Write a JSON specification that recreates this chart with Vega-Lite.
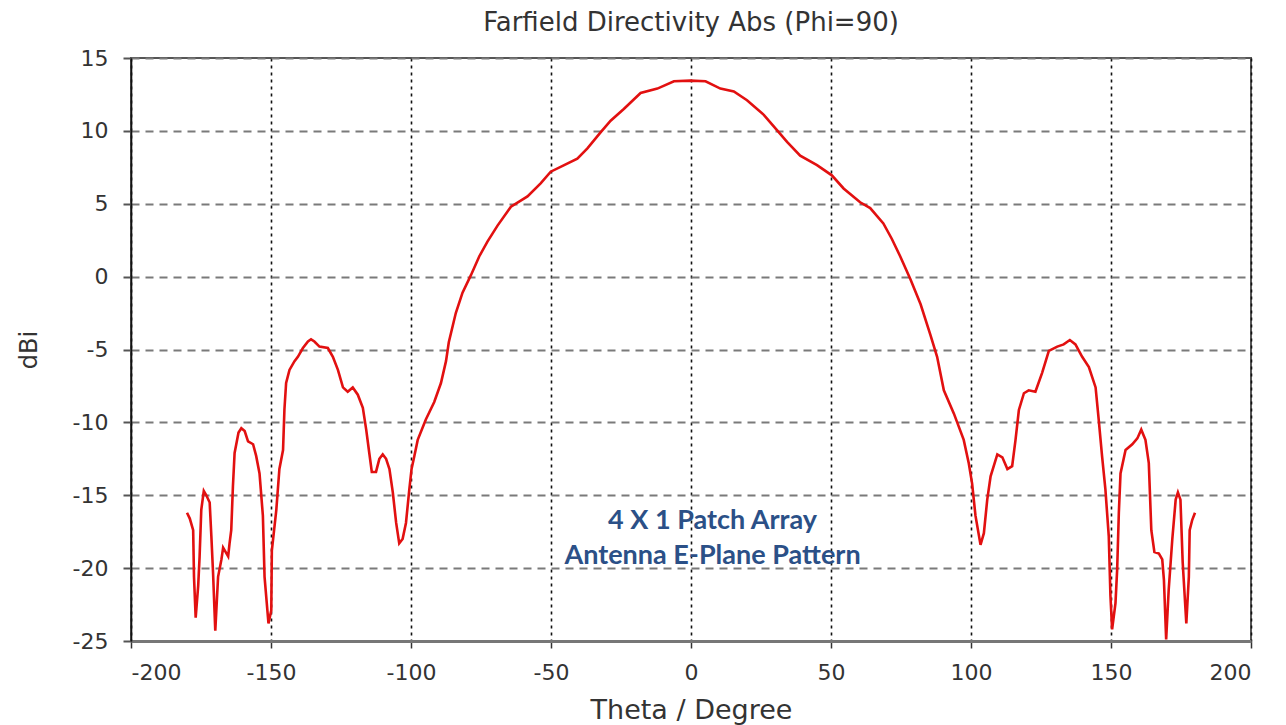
{
  "$schema": "https://vega.github.io/schema/vega-lite/v6.json",
  "width": 1120,
  "height": 583,
  "autosize": {"type": "none"},
  "padding": {"left": 131, "top": 58, "right": 35, "bottom": 84},
  "background": "white",
  "config": {
    "view": {"stroke": "#555555", "strokeWidth": 2},
    "font": "DejaVu Sans",
    "axis": {"labelFont": "DejaVu Sans", "titleFont": "DejaVu Sans", "labelColor": "#333333", "titleColor": "#333333"}
  },
  "title": {"text": "Farfield Directivity Abs (Phi=90)", "font": "DejaVu Sans", "fontSize": 26, "fontWeight": "normal", "color": "#333333", "offset": 11, "anchor": "middle"},
  "datasets": {
    "curve": [
      {"theta": -180.0, "dbi": -16.2}, {"theta": -179.0, "dbi": -16.6}, {"theta": -177.8, "dbi": -17.4}, {"theta": -177.5, "dbi": -20.6},
      {"theta": -176.9, "dbi": -23.4}, {"theta": -176.0, "dbi": -21.2}, {"theta": -175.5, "dbi": -19.2}, {"theta": -174.9, "dbi": -16.0},
      {"theta": -174.0, "dbi": -14.7}, {"theta": -173.1, "dbi": -15.0}, {"theta": -171.9, "dbi": -15.5}, {"theta": -171.3, "dbi": -17.8},
      {"theta": -170.7, "dbi": -20.3}, {"theta": -169.9, "dbi": -24.3}, {"theta": -168.9, "dbi": -20.6}, {"theta": -167.7, "dbi": -19.4},
      {"theta": -167.1, "dbi": -18.6}, {"theta": -165.3, "dbi": -19.2}, {"theta": -164.8, "dbi": -18.3}, {"theta": -164.2, "dbi": -17.4},
      {"theta": -163.6, "dbi": -14.4}, {"theta": -163.0, "dbi": -12.1}, {"theta": -161.6, "dbi": -10.7}, {"theta": -160.6, "dbi": -10.4},
      {"theta": -159.4, "dbi": -10.6}, {"theta": -158.2, "dbi": -11.3}, {"theta": -156.4, "dbi": -11.5}, {"theta": -155.3, "dbi": -12.3},
      {"theta": -154.1, "dbi": -13.5}, {"theta": -152.9, "dbi": -16.4}, {"theta": -152.3, "dbi": -20.6}, {"theta": -150.9, "dbi": -23.8},
      {"theta": -149.9, "dbi": -22.9}, {"theta": -149.7, "dbi": -18.8}, {"theta": -148.1, "dbi": -16.0}, {"theta": -147.0, "dbi": -13.2},
      {"theta": -145.7, "dbi": -11.9}, {"theta": -145.2, "dbi": -9.1}, {"theta": -144.6, "dbi": -7.3}, {"theta": -143.4, "dbi": -6.4},
      {"theta": -141.6, "dbi": -5.8}, {"theta": -140.4, "dbi": -5.5}, {"theta": -138.6, "dbi": -4.9}, {"theta": -136.8, "dbi": -4.45},
      {"theta": -135.7, "dbi": -4.3}, {"theta": -134.5, "dbi": -4.45}, {"theta": -132.7, "dbi": -4.8}, {"theta": -129.7, "dbi": -4.9},
      {"theta": -127.9, "dbi": -5.5}, {"theta": -126.1, "dbi": -6.4}, {"theta": -124.3, "dbi": -7.6}, {"theta": -122.6, "dbi": -7.9},
      {"theta": -120.8, "dbi": -7.6}, {"theta": -119.0, "dbi": -8.1}, {"theta": -117.2, "dbi": -9.0}, {"theta": -116.0, "dbi": -10.5},
      {"theta": -114.9, "dbi": -12.1}, {"theta": -114.0, "dbi": -13.4}, {"theta": -112.5, "dbi": -13.4}, {"theta": -111.3, "dbi": -12.5},
      {"theta": -110.1, "dbi": -12.2}, {"theta": -108.9, "dbi": -12.5}, {"theta": -107.7, "dbi": -13.2}, {"theta": -106.5, "dbi": -14.8},
      {"theta": -105.3, "dbi": -16.9}, {"theta": -104.2, "dbi": -18.3}, {"theta": -103.0, "dbi": -18.0}, {"theta": -101.8, "dbi": -16.9},
      {"theta": -100.6, "dbi": -14.6}, {"theta": -99.8, "dbi": -13.2}, {"theta": -98.8, "dbi": -12.3}, {"theta": -97.6, "dbi": -11.2},
      {"theta": -94.7, "dbi": -9.8}, {"theta": -91.7, "dbi": -8.6}, {"theta": -89.3, "dbi": -7.3}, {"theta": -87.5, "dbi": -5.8},
      {"theta": -86.5, "dbi": -4.5}, {"theta": -84.0, "dbi": -2.5}, {"theta": -81.6, "dbi": -1.1}, {"theta": -78.6, "dbi": 0.1},
      {"theta": -75.6, "dbi": 1.4}, {"theta": -72.7, "dbi": 2.4}, {"theta": -69.1, "dbi": 3.5}, {"theta": -64.3, "dbi": 4.8},
      {"theta": -58.4, "dbi": 5.5}, {"theta": -53.7, "dbi": 6.4}, {"theta": -50.1, "dbi": 7.2}, {"theta": -45.3, "dbi": 7.65},
      {"theta": -40.6, "dbi": 8.1}, {"theta": -37.0, "dbi": 8.8}, {"theta": -32.3, "dbi": 9.9}, {"theta": -28.7, "dbi": 10.7},
      {"theta": -24.0, "dbi": 11.5}, {"theta": -18.0, "dbi": 12.6}, {"theta": -12.0, "dbi": 12.9}, {"theta": -6.1, "dbi": 13.4},
      {"theta": -0.2, "dbi": 13.45}, {"theta": 5.2, "dbi": 13.4}, {"theta": 10.5, "dbi": 12.9}, {"theta": 15.3, "dbi": 12.7},
      {"theta": 20.0, "dbi": 12.1}, {"theta": 26.0, "dbi": 11.1}, {"theta": 30.7, "dbi": 10.05}, {"theta": 34.3, "dbi": 9.25},
      {"theta": 39.0, "dbi": 8.3}, {"theta": 45.0, "dbi": 7.65}, {"theta": 50.3, "dbi": 6.95}, {"theta": 54.5, "dbi": 6.05},
      {"theta": 60.4, "dbi": 5.1}, {"theta": 64.0, "dbi": 4.7}, {"theta": 68.7, "dbi": 3.65}, {"theta": 71.7, "dbi": 2.6},
      {"theta": 74.7, "dbi": 1.4}, {"theta": 78.4, "dbi": -0.2}, {"theta": 82.0, "dbi": -1.9}, {"theta": 85.5, "dbi": -4.0},
      {"theta": 87.9, "dbi": -5.5}, {"theta": 90.3, "dbi": -7.8}, {"theta": 93.9, "dbi": -9.4}, {"theta": 97.4, "dbi": -11.2},
      {"theta": 99.2, "dbi": -12.8}, {"theta": 100.4, "dbi": -14.2}, {"theta": 101.6, "dbi": -16.4}, {"theta": 103.4, "dbi": -18.4},
      {"theta": 104.6, "dbi": -17.6}, {"theta": 105.8, "dbi": -15.3}, {"theta": 107.0, "dbi": -13.7}, {"theta": 109.4, "dbi": -12.2},
      {"theta": 111.2, "dbi": -12.4}, {"theta": 113.0, "dbi": -13.2}, {"theta": 114.7, "dbi": -13.0}, {"theta": 115.9, "dbi": -11.2},
      {"theta": 117.1, "dbi": -9.15}, {"theta": 118.9, "dbi": -8.0}, {"theta": 120.6, "dbi": -7.8}, {"theta": 123.0, "dbi": -7.9},
      {"theta": 125.4, "dbi": -6.6}, {"theta": 127.8, "dbi": -5.1}, {"theta": 130.8, "dbi": -4.8}, {"theta": 133.1, "dbi": -4.65},
      {"theta": 135.3, "dbi": -4.35}, {"theta": 137.3, "dbi": -4.65}, {"theta": 139.7, "dbi": -5.5}, {"theta": 142.1, "dbi": -6.2},
      {"theta": 144.5, "dbi": -7.6}, {"theta": 145.6, "dbi": -9.8}, {"theta": 146.8, "dbi": -12.3}, {"theta": 148.0, "dbi": -14.6},
      {"theta": 149.2, "dbi": -17.8}, {"theta": 149.8, "dbi": -21.9}, {"theta": 150.4, "dbi": -24.2}, {"theta": 151.6, "dbi": -22.4},
      {"theta": 152.2, "dbi": -20.1}, {"theta": 152.8, "dbi": -16.2}, {"theta": 153.4, "dbi": -13.5}, {"theta": 155.2, "dbi": -11.9},
      {"theta": 157.6, "dbi": -11.5}, {"theta": 159.4, "dbi": -11.1}, {"theta": 160.8, "dbi": -10.5}, {"theta": 162.3, "dbi": -11.2},
      {"theta": 163.5, "dbi": -12.8}, {"theta": 164.4, "dbi": -17.4}, {"theta": 165.5, "dbi": -18.9}, {"theta": 167.1, "dbi": -19.0},
      {"theta": 168.3, "dbi": -19.4}, {"theta": 168.9, "dbi": -20.8}, {"theta": 169.7, "dbi": -24.9}, {"theta": 170.6, "dbi": -21.5},
      {"theta": 171.9, "dbi": -18.0}, {"theta": 173.1, "dbi": -15.3}, {"theta": 173.9, "dbi": -14.8}, {"theta": 174.8, "dbi": -15.3},
      {"theta": 175.6, "dbi": -19.6}, {"theta": 176.9, "dbi": -23.8}, {"theta": 177.8, "dbi": -20.6}, {"theta": 178.1, "dbi": -17.4},
      {"theta": 179.0, "dbi": -16.7}, {"theta": 180.0, "dbi": -16.2}
    ],
    "notes": [
      {"theta": 7.7, "dbi": -16.8, "label": "4 X 1 Patch Array"},
      {"theta": 7.7, "dbi": -19.2, "label": "Antenna E-Plane Pattern"}
    ]
  },
  "layer": [
    {
      "data": {"name": "curve"},
      "mark": {"type": "line", "color": "#E21010", "strokeWidth": 2.6, "interpolate": "linear", "clip": true},
      "encoding": {
        "x": {
          "field": "theta", "type": "quantitative",
          "scale": {"domain": [-200, 200], "nice": false, "zero": false},
          "axis": {
            "title": "Theta / Degree", "titleFontSize": 27, "titleFontWeight": "normal", "titlePadding": 14,
            "values": [-200, -150, -100, -50, 0, 50, 100, 150, 200],
            "labelExpr": "'' + datum.value",
            "labelFontSize": 22, "labelPadding": 14, "tickSize": 7, "tickColor": "#333333", "tickWidth": 1.5,
            "domainColor": "#777777", "domainWidth": 3,
            "grid": true, "gridColor": "#111111", "gridDash": [3, 4], "gridWidth": 1.6, "gridOpacity": 1
          }
        },
        "y": {
          "field": "dbi", "type": "quantitative",
          "scale": {"domain": [-25, 15], "nice": false, "zero": false},
          "axis": {
            "title": "dBi", "titleFontSize": 24, "titleFontWeight": "normal", "titlePadding": 31,
            "values": [-25, -20, -15, -10, -5, 0, 5, 10, 15],
            "labelExpr": "'' + datum.value",
            "labelFontSize": 22, "labelPadding": 15, "tickSize": 8, "tickColor": "#555555", "tickWidth": 2,
            "domainColor": "#111111", "domainWidth": 1.6,
            "grid": true, "gridColor": "#7a7a7a", "gridDash": [8, 6], "gridWidth": 2.2, "gridOpacity": 1
          }
        }
      }
    },
    {
      "data": {"name": "notes"},
      "mark": {"type": "text", "font": "Lato", "fontWeight": "bold", "fontSize": 27, "color": "#2B5087", "align": "center", "baseline": "middle"},
      "encoding": {
        "x": {"field": "theta", "type": "quantitative"},
        "y": {"field": "dbi", "type": "quantitative"},
        "text": {"field": "label"}
      }
    }
  ]
}
